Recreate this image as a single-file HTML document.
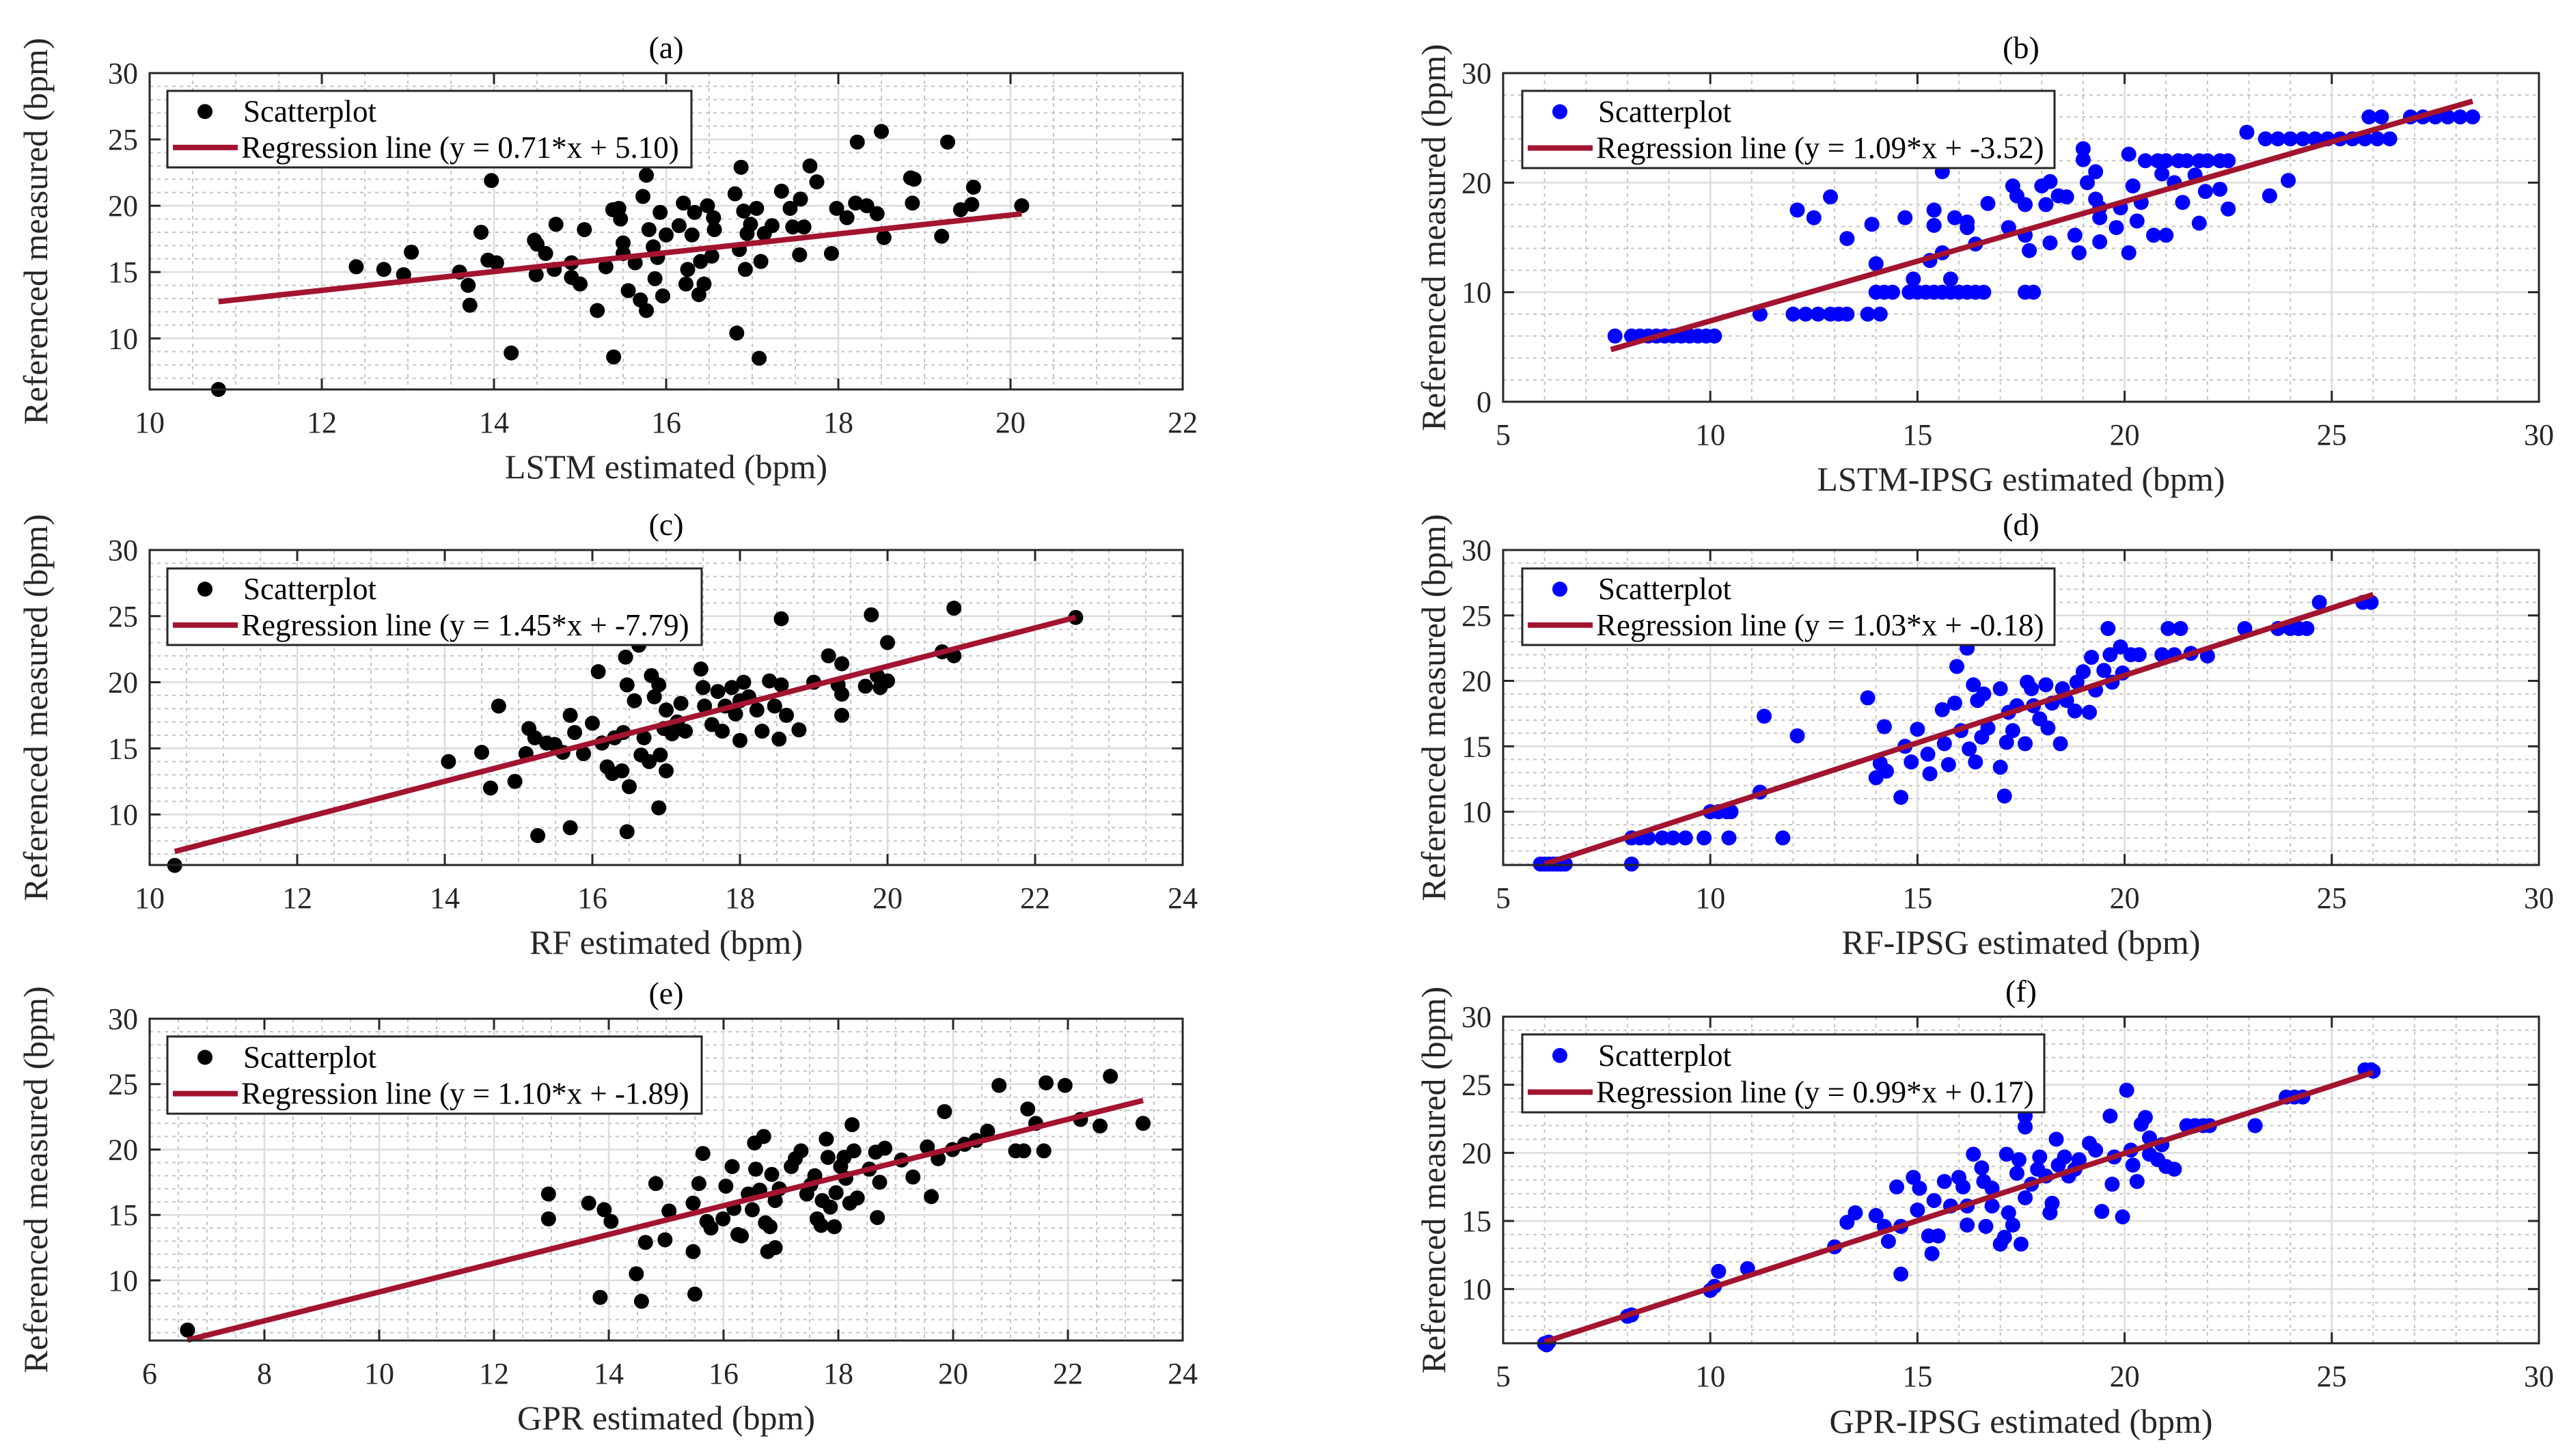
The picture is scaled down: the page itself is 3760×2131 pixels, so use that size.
<!DOCTYPE html>
<html><head><meta charset="utf-8"><style>
html,body{margin:0;padding:0;background:#fff;}
svg{display:block;font-family:"Liberation Serif",serif;}
svg text{font-family:"Liberation Serif","Times New Roman",serif !important;}
</style></head><body>
<svg id="fig" width="3760" height="2131" viewBox="0 0 3760 2131" xmlns="http://www.w3.org/2000/svg" font-family="Liberation Serif, serif"></svg>
<script>
// ---- data ----
const aX=[10.8,12.4,12.72,12.95,13.04,13.6,13.7,13.72,13.85,13.97,13.93,14.03,14.2,14.47,14.5,14.49,14.6,14.7,14.72,14.9,14.9,15.0,15.05,15.2,15.3,15.38,15.45,15.47,15.5,15.5,15.56,15.64,15.7,15.73,15.77,15.77,15.8,15.85,15.87,15.9,15.93,15.96,16.0,15.39,16.15,16.2,16.25,16.23,16.3,16.33,16.38,16.4,16.44,16.48,16.53,16.55,16.56,16.8,16.82,16.87,16.85,16.9,16.92,16.94,16.98,17.05,17.08,17.1,17.14,17.23,17.34,17.44,17.47,17.55,17.56,17.6,17.67,17.75,17.92,17.98,18.1,18.2,18.22,18.33,18.45,18.5,18.53,18.84,18.88,18.86,19.2,19.27,19.42,19.55,19.57,20.13];
const aY=[6.15,15.4,15.2,14.8,16.5,15.0,14.0,12.5,18.0,21.9,15.9,15.7,8.9,17.4,17.1,14.8,16.4,15.2,18.6,15.7,14.6,14.1,18.2,12.1,15.4,19.7,19.8,19.0,17.2,16.4,13.6,15.7,12.9,20.7,22.3,12.1,18.2,16.9,14.5,16.1,19.5,13.2,17.8,8.6,18.5,20.2,15.2,14.1,17.8,19.5,13.3,15.8,14.1,20.0,16.2,19.1,18.2,20.9,10.4,22.9,16.7,19.6,15.2,17.9,18.6,19.8,8.5,15.8,17.9,18.5,21.1,19.8,18.4,16.3,20.5,18.4,23.0,21.8,16.4,19.8,19.1,20.2,24.8,20.0,19.4,25.6,17.6,22.1,22.0,20.2,17.7,24.8,19.7,20.1,21.4,20.0];
const bX=[7.7,8.1,8.3,8.5,8.7,8.9,9.1,9.3,9.5,9.7,9.9,10.1,11.2,12.0,12.3,12.6,12.9,13.1,13.3,13.8,14.1,14.0,14.2,14.4,14.8,15.0,15.2,15.4,15.6,15.8,16.0,16.2,16.4,16.6,17.6,17.8,20.5,20.8,21.0,21.3,21.5,21.8,22.0,22.3,22.5,23.4,23.7,24.0,24.3,24.6,24.9,25.2,25.5,25.8,26.1,26.4,22.95,25.9,26.2,26.9,27.2,27.5,27.8,28.1,28.4,23.95,23.5,22.5,22.3,21.8,21.95,21.7,21.4,21.2,20.9,21.0,20.7,20.4,20.2,20.3,20.1,20.1,19.9,19.8,19.4,19.3,19.3,19.4,19.4,19.1,19.0,19.0,18.9,18.8,18.6,18.4,18.2,18.2,18.1,18.0,17.7,17.6,17.6,17.4,17.3,17.2,16.7,16.4,16.2,16.2,15.9,15.8,15.6,15.6,15.4,15.4,15.3,14.7,14.9,14.0,13.9,13.3,12.9,12.5,12.1];
const bY=[6,6,6,6,6,6,6,6,6,6,6,6,8,8,8,8,8,8,8,8,8,10,10,10,10,10,10,10,10,10,10,10,10,10,10,10,22,22,22,22,22,22,22,22,22,24,24,24,24,24,24,24,24,24,24,24,24.6,26,26,26,26,26,26,26,26,20.2,18.8,17.6,19.4,16.3,19.2,20.7,18.2,20.0,20.8,15.2,15.2,18.2,19.7,16.5,22.6,13.6,17.7,15.9,17.7,21.0,18.5,16.8,14.6,20.0,23.1,22.1,13.6,15.2,18.7,18.8,20.1,14.5,18.0,19.7,13.8,15.2,18.0,18.8,19.7,15.9,18.1,14.4,15.9,16.4,16.8,11.2,21.0,13.6,17.5,16.1,12.9,16.8,11.2,12.6,16.2,14.9,18.7,16.8,17.5];
const cX=[10.34,14.05,14.5,14.62,14.73,14.95,15.1,15.14,15.22,15.26,15.38,15.49,15.6,15.7,15.7,15.76,15.88,16.0,16.08,16.13,16.2,16.27,16.3,16.4,16.42,16.45,16.47,16.47,16.5,16.57,16.63,16.66,16.7,16.77,16.8,16.84,16.9,16.9,16.92,16.97,17.0,17.0,17.08,17.15,17.2,17.26,17.47,17.5,17.52,17.62,17.7,17.76,17.8,17.89,17.94,18.0,18.0,18.05,18.12,18.23,18.3,18.4,18.47,18.53,18.56,18.56,18.63,18.8,19.0,19.2,19.33,19.38,19.38,19.38,19.7,19.78,19.86,19.9,20.0,20.0,20.74,20.9,20.9,22.55];
const cY=[6.15,14.0,14.7,12.0,18.2,12.5,14.6,16.5,15.8,8.4,15.4,15.3,14.7,17.5,9.0,16.2,14.6,16.9,20.8,15.4,13.6,13.1,15.8,13.3,16.2,21.9,8.7,19.8,12.1,18.6,22.8,14.5,15.8,14.0,20.5,18.9,19.8,10.5,14.5,16.5,13.3,17.9,16.1,17.0,18.4,16.3,21.0,19.6,18.2,16.8,19.3,16.3,18.2,19.6,17.6,18.6,15.6,20.0,18.9,17.9,16.3,20.1,18.2,15.7,24.8,19.8,17.5,16.4,20.0,22.0,19.8,21.4,19.1,17.5,19.7,25.1,20.5,19.6,23.0,20.1,22.3,25.6,22.0,24.9];
const dX=[5.9,6.0,6.1,6.2,6.3,6.4,6.5,8.1,8.1,8.3,8.5,8.84,9.1,9.4,9.85,10.45,11.75,10.0,10.2,10.4,10.5,11.2,11.3,12.1,13.8,14.0,14.2,14.25,14.1,14.6,14.7,14.85,15.0,15.25,15.3,15.6,15.65,15.75,15.9,15.95,16.05,16.2,16.25,16.35,16.4,16.45,16.55,16.6,16.7,17.0,17.0,17.1,17.15,17.2,17.3,17.4,17.6,17.65,17.75,17.8,17.95,18.1,18.15,18.25,18.45,18.5,18.6,18.8,18.85,19.0,19.15,19.2,19.3,19.5,19.6,19.65,19.7,19.9,19.95,20.15,20.35,20.9,21.05,21.35,21.2,21.6,22.0,22.9,23.7,24.0,24.2,24.4,24.7,25.75,25.95];
const dY=[6,6,6,6,6,6,6,6,8,8,8,8,8,8,8,8,8,10,10,10,10,11.5,17.3,15.8,18.7,12.6,16.5,13.1,13.7,11.1,15.0,13.8,16.3,14.4,12.9,17.8,15.2,13.6,18.3,21.1,16.2,22.5,14.8,19.7,13.8,18.5,15.7,19.0,16.4,19.4,13.4,11.2,15.3,17.6,16.2,18.1,15.2,19.9,19.4,18.1,17.1,19.7,16.4,18.3,15.2,19.4,18.5,17.7,19.9,20.7,17.6,21.8,19.3,20.8,24.0,22.0,19.9,22.6,20.6,22.0,22.0,22.0,24.0,24.0,22.0,22.1,21.9,24.0,24.0,24.0,24.0,24.0,26.0,26.0,26.0];
const eX=[6.66,12.95,12.95,13.65,13.85,13.92,14.04,14.48,14.57,14.64,14.82,14.98,15.05,15.47,15.5,15.47,15.57,15.64,15.71,15.78,15.99,16.04,16.15,16.18,16.25,16.31,16.43,16.5,16.54,16.56,16.63,16.7,16.73,16.77,16.81,16.84,16.9,16.9,16.97,17.18,17.25,17.35,17.45,17.52,17.59,17.63,17.7,17.72,17.79,17.82,17.86,17.93,17.96,18.04,18.1,18.13,18.2,18.24,18.27,18.33,18.54,18.65,18.68,18.72,18.81,19.1,19.3,19.55,19.62,19.74,19.85,19.99,20.2,20.4,20.6,20.8,21.09,21.23,21.3,21.44,21.58,21.62,21.95,22.22,22.56,22.74,23.31];
const eY=[6.2,16.6,14.7,15.9,8.7,15.4,14.5,10.5,8.4,12.9,17.4,13.1,15.3,12.2,8.95,15.9,17.4,19.7,14.5,14.0,14.7,17.2,18.7,15.5,13.5,13.4,16.6,15.4,20.5,18.5,16.9,21.0,14.4,12.2,14.1,18.1,12.5,16.1,17.0,18.7,19.3,19.9,16.6,17.3,18.0,14.7,14.2,16.1,20.8,19.4,15.6,14.1,16.7,18.7,19.4,17.8,15.9,21.9,19.9,16.3,18.5,19.8,14.8,17.5,20.1,19.2,17.9,20.2,16.4,19.3,22.9,20.0,20.4,20.7,21.4,24.9,19.9,19.9,23.1,22.0,19.9,25.1,24.9,22.3,21.8,25.6,22.0];
const fX=[6.0,6.05,6.1,8.0,8.1,10.0,10.1,10.2,10.9,13.0,13.3,13.5,14.0,14.2,14.3,14.5,14.6,14.6,14.9,15.0,15.05,15.27,15.35,15.4,15.5,15.65,15.8,16.0,16.1,16.2,16.2,16.35,16.55,16.6,16.65,16.8,16.8,17.0,17.1,17.15,17.2,17.3,17.4,17.45,17.5,17.6,17.6,17.6,17.75,17.9,17.95,18.1,18.2,18.25,18.35,18.4,18.55,18.65,18.8,18.9,19.15,19.3,19.45,19.65,19.7,19.75,19.95,20.05,20.15,20.2,20.3,20.4,20.5,20.6,20.6,20.8,20.9,21.0,21.2,21.5,21.7,21.9,22.05,23.15,23.9,24.1,24.3,25.8,25.95,26.0];
const fY=[6.0,5.9,6.1,8.0,8.1,9.9,10.2,11.3,11.5,13.1,14.9,15.6,15.4,14.6,13.5,17.5,14.6,11.1,18.2,15.8,17.4,13.9,12.6,16.5,13.9,17.9,16.1,18.2,17.5,16.1,14.7,19.9,18.9,17.9,14.6,17.4,16.1,13.3,13.8,19.9,15.6,14.7,18.5,19.5,13.3,22.7,21.9,16.7,17.7,18.8,19.7,18.3,15.6,16.3,21.0,19.1,19.7,18.3,18.8,19.5,20.7,20.2,15.7,22.7,17.7,19.7,15.3,24.6,20.2,19.1,17.9,22.1,22.6,21.1,19.9,19.5,20.6,19.0,18.8,22.0,22.0,22.0,22.0,22.0,24.1,24.1,24.1,26.1,26.1,26.0];
const slopes=[0.71,1.09,1.45,1.03,1.10,0.99];
const intercepts=[5.10,-3.52,-7.79,-0.18,-1.89,0.17];
const xTicksAC=[10,12,14,16,18,20,22];
const xTicksC=[10,12,14,16,18,20,22,24];
const xTicksE=[6,8,10,12,14,16,18,20,22,24];
const xTicksIPSG=[5,10,15,20,25,30];
const yTicks5=[10,15,20,25,30];
const yTicks10=[0,10,20,30];
const titles=["(a)","(b)","(c)","(d)","(e)","(f)"];
const xLabels=["LSTM estimated (bpm)","LSTM-IPSG estimated (bpm)","RF estimated (bpm)","RF-IPSG estimated (bpm)","GPR estimated (bpm)","GPR-IPSG estimated (bpm)"];
const eqLabels=["Regression line (y = 0.71*x + 5.10)","Regression line (y = 1.09*x + -3.52)","Regression line (y = 1.45*x + -7.79)","Regression line (y = 1.03*x + -0.18)","Regression line (y = 1.10*x + -1.89)","Regression line (y = 0.99*x + 0.17)"];

const NS="http://www.w3.org/2000/svg";
const svg=document.getElementById('fig');
function mk(tag,attrs,parent){const e=document.createElementNS(NS,tag);for(const k in attrs)e.setAttribute(k,attrs[k]);if(tag==='text'){e.setAttribute('font-family','Liberation Serif, Times New Roman, serif');e.style.fontFamily='"Liberation Serif","Times New Roman",serif';}(parent||svg).appendChild(e);return e;}

const panels=[
 {xs:aX,ys:aY,L:219,R:1731,T:107,B:570,x0:10,x1:22,y0:6.15,y1:30,xt:xTicksAC,yt:yTicks5,xm:0.5,ym:1,col:"#000",leg:[245,133,1012,245],xl:700,yl:52,xfit:[10.8,20.13]},
 {xs:bX,ys:bY,L:2200,R:3716,T:107,B:588,x0:5,x1:30,y0:0,y1:30,xt:xTicksIPSG,yt:yTicks10,xm:1,ym:2,col:"#0000ff",leg:[2228,133,3007,246],xl:718,yl:2098,xfit:[7.6,28.4]},
 {xs:cX,ys:cY,L:219,R:1731,T:805,B:1266,x0:10,x1:24,y0:6.18,y1:30,xt:xTicksC,yt:yTicks5,xm:0.5,ym:1,col:"#000",leg:[245,832,1027,944],xl:1396,yl:52,xfit:[10.34,22.55]},
 {xs:dX,ys:dY,L:2200,R:3716,T:805,B:1266,x0:5,x1:30,y0:5.93,y1:30,xt:xTicksIPSG,yt:yTicks5,xm:1,ym:1,col:"#0000ff",leg:[2228,832,3007,944],xl:1396,yl:2098,xfit:[6.0,26.0]},
 {xs:eX,ys:eY,L:219,R:1731,T:1491,B:1962,x0:6,x1:24,y0:5.4,y1:30,xt:xTicksE,yt:yTicks5,xm:0.5,ym:1,col:"#000",leg:[245,1517,1027,1630],xl:2092,yl:52,xfit:[6.66,23.31]},
 {xs:fX,ys:fY,L:2200,R:3716,T:1488,B:1966,x0:5,x1:30,y0:6.02,y1:30,xt:xTicksIPSG,yt:yTicks5,xm:1,ym:1,col:"#0000ff",leg:[2228,1514,2992,1628],xl:2097,yl:2098,xfit:[6.0,26.0]}
];

panels.forEach((p,i)=>{
  const g=mk('g',{});
  
  
  const sx=v=>p.L+(v-p.x0)/(p.x1-p.x0)*(p.R-p.L);
  const sy=v=>p.B-(v-p.y0)/(p.y1-p.y0)*(p.B-p.T);
  const mg=mk('g',{stroke:"#c4c4c4","stroke-width":2,"stroke-dasharray":"5 6"},g);
  
  
  for(let v=Math.ceil(p.x0/p.xm)*p.xm;v<=p.x1+1e-9;v+=p.xm){const x=sx(v);mk('line',{x1:x,x2:x,y1:p.T,y2:p.B},mg);}
  for(let v=Math.ceil(p.y0/p.ym)*p.ym;v<=p.y1+1e-9;v+=p.ym){const y=sy(v);mk('line',{x1:p.L,x2:p.R,y1:y,y2:y},mg);}
  const jg=mk('g',{stroke:"#dcdcdc","stroke-width":2.5},g);
  
  
  p.xt.forEach(v=>{const x=sx(v);mk('line',{x1:x,x2:x,y1:p.T,y2:p.B},jg);});
  p.yt.forEach(v=>{const y=sy(v);mk('line',{x1:p.L,x2:p.R,y1:y,y2:y},jg);});
  const sg=mk('g',{fill:p.col},g);
  
  
  p.xs.forEach((v,k)=>{const c=mk('circle',{cx:sx(v),cy:sy(p.ys[k]),r:11},sg);
    
    });
  const xa=p.xfit[0],xb=p.xfit[1];
  const rl=mk('line',{x1:sx(xa),y1:sy(slopes[i]*xa+intercepts[i]),x2:sx(xb),y2:sy(slopes[i]*xb+intercepts[i]),stroke:"#A2142F","stroke-width":8,"stroke-linecap":"butt"},g);
  
  
  const ax=mk('g',{stroke:"#262626","stroke-width":3,fill:"none"},g);
  
  
  mk('rect',{x:p.L,y:p.T,width:p.R-p.L,height:p.B-p.T},ax);
  p.xt.forEach(v=>{const x=sx(v);mk('line',{x1:x,x2:x,y1:p.B,y2:p.B-16},ax);mk('line',{x1:x,x2:x,y1:p.T,y2:p.T+16},ax);});
  p.yt.forEach(v=>{const y=sy(v);mk('line',{x1:p.L,x2:p.L+16,y1:y,y2:y},ax);mk('line',{x1:p.R,x2:p.R-16,y1:y,y2:y},ax);});
  const tl=mk('g',{fill:"#262626","font-size":44},g);
  
  
  p.xt.forEach(v=>{const t=mk('text',{x:sx(v),y:p.B+63,"text-anchor":"middle"},tl);t.textContent=v;});
  p.yt.forEach(v=>{const t=mk('text',{x:p.L-17,y:sy(v)+15,"text-anchor":"end"},tl);t.textContent=v;});
  const tt=mk('text',{x:(p.L+p.R)/2,y:p.T-22,"text-anchor":"middle","font-size":46,fill:"#000"},g);
  tt.textContent=titles[i];
  
  
  const xl=mk('text',{x:(p.L+p.R)/2,y:p.xl,"text-anchor":"middle","font-size":50,fill:"#262626"},g);
  xl.textContent=xLabels[i];
  
  
  const cy=(p.T+p.B)/2;
  const yl=mk('text',{x:p.yl,y:cy,"text-anchor":"middle","font-size":50,fill:"#262626",transform:`rotate(-90 ${p.yl} ${cy})`,dy:17},g);
  yl.textContent="Referenced measured (bpm)";
  
  
  const [lx,ly,rx,by]=p.leg;
  const lg=mk('g',{},g);
  
  
  mk('rect',{x:lx,y:ly,width:rx-lx,height:by-ly,fill:"#fff",stroke:"#262626","stroke-width":3},lg);
  const r1=ly+(by-ly)*0.27, r2=ly+(by-ly)*0.74;
  const m=mk('circle',{cx:lx+55,cy:r1,r:11,fill:p.col},lg);
  
  
  const t1=mk('text',{x:lx+111,y:r1+15,"font-size":45,fill:"#000"},lg);
  t1.textContent="Scatterplot";
  
  
  const ll=mk('line',{x1:lx+8,x2:lx+103,y1:r2,y2:r2,stroke:"#A2142F","stroke-width":8},lg);
  
  
  const t2=mk('text',{x:lx+108,y:r2+15,"font-size":45,fill:"#000"},lg);
  t2.textContent=eqLabels[i];
  
  
});
</script>
</body></html>
